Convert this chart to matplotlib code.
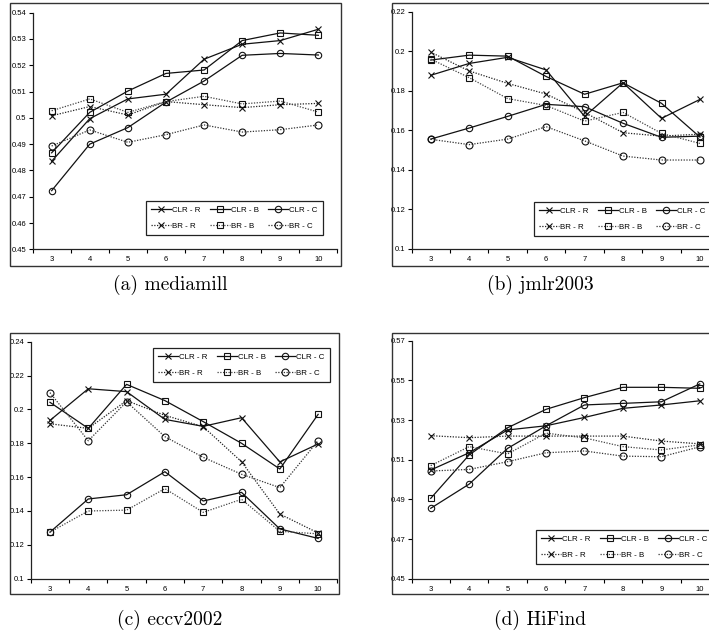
import matplotlib
matplotlib.use("Agg")
import matplotlib.pyplot as plt
from matplotlib.patches import Rectangle

# ---------------- data ----------------
x_vals = [3, 4, 5, 6, 7, 8, 9, 10]
series_names = ["CLR - R", "CLR - B", "CLR - C", "BR - R", "BR - B", "BR - C"]

mediamill_clr_r = [0.4835, 0.4997, 0.5072, 0.5090, 0.5223, 0.5280, 0.5294, 0.5337]
mediamill_clr_b = [0.4867, 0.5021, 0.5102, 0.5169, 0.5182, 0.5294, 0.5323, 0.5314]
mediamill_clr_c = [0.4723, 0.4900, 0.4963, 0.5060, 0.5140, 0.5238, 0.5245, 0.5239]
mediamill_br_r = [0.5008, 0.5043, 0.5011, 0.5062, 0.5050, 0.5039, 0.5050, 0.5055]
mediamill_br_b = [0.5027, 0.5072, 0.5021, 0.5062, 0.5082, 0.5053, 0.5064, 0.5022]
mediamill_br_c = [0.4893, 0.4954, 0.4907, 0.4936, 0.4973, 0.4946, 0.4955, 0.4973]

jmlr_clr_r = [0.1878, 0.1938, 0.1969, 0.1905, 0.1670, 0.1840, 0.1660, 0.1756]
jmlr_clr_b = [0.1955, 0.1980, 0.1975, 0.1872, 0.1782, 0.1840, 0.1736, 0.1565]
jmlr_clr_c = [0.1555, 0.1611, 0.1670, 0.1731, 0.1719, 0.1635, 0.1564, 0.1570]
jmlr_br_r = [0.1995, 0.1900, 0.1837, 0.1783, 0.1690, 0.1587, 0.1570, 0.1580]
jmlr_br_b = [0.1960, 0.1866, 0.1760, 0.1725, 0.1646, 0.1690, 0.1584, 0.1533]
jmlr_br_c = [0.1554, 0.1527, 0.1555, 0.1618, 0.1546, 0.1469, 0.1449, 0.1449]

eccv_clr_r = [0.1935, 0.2122, 0.2105, 0.1941, 0.1900, 0.1951, 0.1690, 0.1796]
eccv_clr_b = [0.2042, 0.1888, 0.2148, 0.2052, 0.1928, 0.1800, 0.1648, 0.1971]
eccv_clr_c = [0.1275, 0.1471, 0.1496, 0.1632, 0.1459, 0.1510, 0.1294, 0.1238]
eccv_br_r = [0.1915, 0.1888, 0.2052, 0.1965, 0.1898, 0.1691, 0.1382, 0.1270]
eccv_br_b = [0.1275, 0.1400, 0.1405, 0.1532, 0.1392, 0.1469, 0.1280, 0.1265]
eccv_br_c = [0.2099, 0.1815, 0.2045, 0.1839, 0.1717, 0.1617, 0.1538, 0.1815]

hifind_clr_r = [0.5048, 0.5135, 0.5250, 0.5271, 0.5313, 0.5359, 0.5376, 0.5397]
hifind_clr_b = [0.4905, 0.5124, 0.5261, 0.5354, 0.5413, 0.5465, 0.5465, 0.5460]
hifind_clr_c = [0.4855, 0.4977, 0.5157, 0.5271, 0.5376, 0.5384, 0.5392, 0.5482]
hifind_br_r = [0.5221, 0.5211, 0.5219, 0.5219, 0.5219, 0.5219, 0.5194, 0.5180]
hifind_br_b = [0.5070, 0.5166, 0.5129, 0.5234, 0.5210, 0.5166, 0.5149, 0.5175]
hifind_br_c = [0.5043, 0.5051, 0.5090, 0.5135, 0.5144, 0.5118, 0.5115, 0.5165]

yticks_a = [0.45, 0.46, 0.47, 0.48, 0.49, 0.50, 0.51, 0.52, 0.53, 0.54]
ylabels_a = ["0.45", "0.46", "0.47", "0.48", "0.49", "0.5", "0.51", "0.52", "0.53", "0.54"]
yticks_b = [0.10, 0.12, 0.14, 0.16, 0.18, 0.20, 0.22]
ylabels_b = ["0.1", "0.12", "0.14", "0.16", "0.18", "0.2", "0.22"]
yticks_c = [0.10, 0.12, 0.14, 0.16, 0.18, 0.20, 0.22, 0.24]
ylabels_c = ["0.1", "0.12", "0.14", "0.16", "0.18", "0.2", "0.22", "0.24"]
yticks_d = [0.45, 0.47, 0.49, 0.51, 0.53, 0.55, 0.57]
ylabels_d = ["0.45", "0.47", "0.49", "0.51", "0.53", "0.55", "0.57"]

captions = ["(a) mediamill", "(b) jmlr2003", "(c) eccv2002", "(d) HiFind"]

# ---------------- figure ----------------
W, H = 709, 635
fig = plt.figure(figsize=(W / 100, H / 100), dpi=100)
plt.rcParams["font.family"] = ["Liberation Sans", "DejaVu Sans"]


def fr(left, top, right, bottom):
    return [left / W, 1 - bottom / H, (right - left) / W, (bottom - top) / H]


panels = [
    dict(frame=(10, 3, 340.5, 265.5), ax=(32.6, 12.7, 337.4, 249.3),
         data=[mediamill_clr_r, mediamill_clr_b, mediamill_clr_c,
               mediamill_br_r, mediamill_br_b, mediamill_br_c],
         yt=yticks_a, yl=ylabels_a, leg=(146, 201), cap=(170, 285)),
    dict(frame=(391.7, 3, 760, 265.5), ax=(411.5, 11.7, 719.2, 248.7),
         data=[jmlr_clr_r, jmlr_clr_b, jmlr_clr_c, jmlr_br_r, jmlr_br_b, jmlr_br_c],
         yt=yticks_b, yl=ylabels_b, leg=(534, 202), cap=(540, 285)),
    dict(frame=(10, 333.3, 338.5, 593.5), ax=(30.8, 341.7, 337.3, 578.7),
         data=[eccv_clr_r, eccv_clr_b, eccv_clr_c, eccv_br_r, eccv_br_b, eccv_br_c],
         yt=yticks_c, yl=ylabels_c, leg=(153, 348), cap=(170, 620)),
    dict(frame=(391.7, 333.3, 760, 594), ax=(411.5, 340.7, 719.0, 578.7),
         data=[hifind_clr_r, hifind_clr_b, hifind_clr_c,
               hifind_br_r, hifind_br_b, hifind_br_c],
         yt=yticks_d, yl=ylabels_d, leg=(536, 530), cap=(540, 620)),
]

markers = ["x", "s", "o", "x", "s", "o"]
styles = ["-", "-", "-", ":", ":", ":"]
colors = ["#111111", "#111111", "#111111", "#222222", "#444444", "#333333"]

for i, p in enumerate(panels):
    fl, ft, frr, fb = p["frame"]
    fig.add_artist(Rectangle((fl / W, 1 - fb / H), (frr - fl) / W, (fb - ft) / H,
                             transform=fig.transFigure, fill=False,
                             lw=1.0, ec="#333333", clip_on=False))
    ax = fig.add_axes(fr(*p["ax"]))
    ax.patch.set_alpha(0)
    handles = []
    for s in range(6):
        ms = 4.6 if s == 2 else 5.0
        ln, = ax.plot(x_vals, p["data"][s], linestyle=styles[s], color=colors[s],
                      lw=0.9, marker=markers[s], markersize=ms,
                      markerfacecolor="none", markeredgecolor="#111111",
                      markeredgewidth=0.8, label=series_names[s], clip_on=False)
        if styles[s] == ":":
            ln.set_dashes((1.0, 1.2))
        handles.append(ln)
    ax.set_xlim(2.5, 10.5)
    ax.set_ylim(p["yt"][0], p["yt"][-1])
    ax.set_yticks(p["yt"])
    ax.set_yticklabels(p["yl"])
    ax.set_xticks(x_vals)
    ax.set_xticklabels([str(v) for v in x_vals])
    ax.set_xticks([v - 0.5 for v in x_vals] + [10.5], minor=True)
    ax.tick_params(axis="x", which="major", length=0, pad=5, labelsize=5.5)
    ax.tick_params(axis="x", which="minor", length=3, width=0.8, direction="out")
    ax.tick_params(axis="y", which="major", length=3, width=0.8, pad=1.5,
                   labelsize=5.5, direction="out")
    for side in ["top", "right"]:
        ax.spines[side].set_visible(False)
    for side in ["left", "bottom"]:
        ax.spines[side].set_linewidth(0.9)
        ax.spines[side].set_color("#222222")

    order = [0, 3, 1, 4, 2, 5]
    lx, ly = p["leg"]
    leg = fig.legend([handles[k] for k in order], [series_names[k] for k in order],
                     ncol=3, loc="upper left",
                     bbox_to_anchor=(lx / W, 1 - ly / H),
                     bbox_transform=fig.transFigure,
                     fontsize=5.7, frameon=True, fancybox=False,
                     edgecolor="#222222", framealpha=1, borderpad=0.65,
                     handlelength=2.5, handletextpad=0.15, columnspacing=1.2,
                     labelspacing=1.05, borderaxespad=0, numpoints=1)
    leg.get_frame().set_linewidth(0.9)

    cx, cy = p["cap"]
    fig.text(cx / W, 1 - cy / H, captions[i], ha="center", va="center",
             fontsize=14, family=["cmr10", "DejaVu Serif"])

fig.savefig("out.png", dpi=100)
